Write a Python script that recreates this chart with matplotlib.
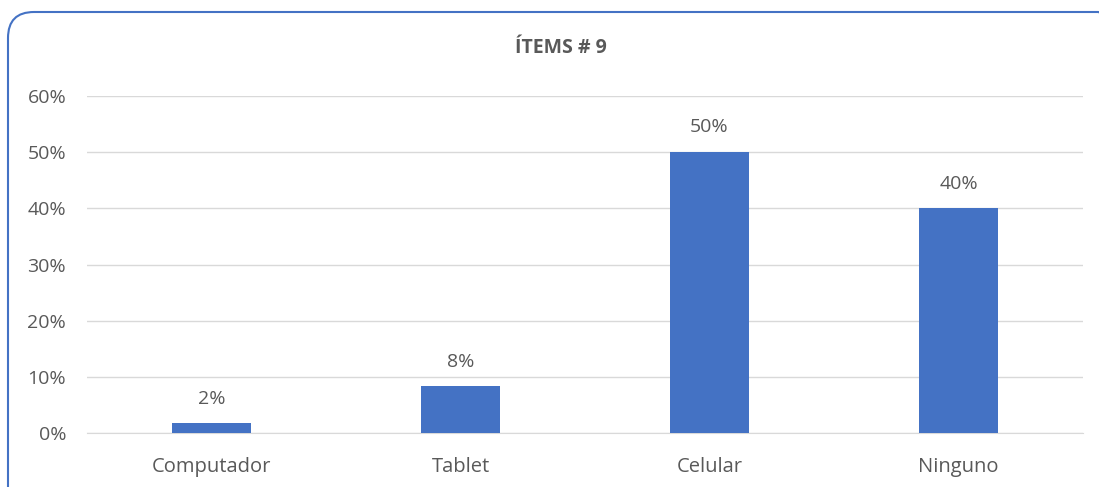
import matplotlib.pyplot as plt
from matplotlib.patches import FancyBboxPatch
from matplotlib.transforms import IdentityTransform

categories = ['Computador', 'Tablet', 'Celular', 'Ninguno']
values = [0.017, 0.083, 0.50, 0.40]
labels = ['2%', '8%', '50%', '40%']
yticks = [0, 0.1, 0.2, 0.3, 0.4, 0.5, 0.6]

plt.rcParams['font.family'] = ['Open Sans', 'DejaVu Sans']
grey = '#595959'

fig = plt.figure(figsize=(10.99, 4.87), dpi=100)

# rounded chart border, in pixels (cut off on the right and bottom like the source)
border = FancyBboxPatch((8, -40), 1116, 487 - 12 + 40,
                        boxstyle='round,pad=0,rounding_size=26',
                        transform=IdentityTransform(), facecolor='none',
                        edgecolor='#4472C4', linewidth=1.5)
fig.patches.append(border)

ax = fig.add_axes([87 / 1099, 1 - 433 / 487, (1083 - 87) / 1099, (433 - 96) / 487])
x = range(len(categories))
ax.bar(x, values, width=0.315, color='#4472C4', zorder=3)
for i, (v, t) in enumerate(zip(values, labels)):
    ax.text(i, v + 0.028, t, ha='center', va='bottom', fontsize=14, color=grey)

ax.set_xlim(-0.5, 3.5)
ax.set_ylim(0, 0.6)
ax.set_yticks(yticks)
ax.set_yticklabels([f'{int(round(t * 100))}%' for t in yticks], fontsize=14, color=grey)
ax.set_xticks(list(x))
ax.set_xticklabels(categories, fontsize=14.5, color=grey)
ax.tick_params(length=0)
ax.tick_params(axis='x', pad=17)
ax.tick_params(axis='y', pad=15)
ax.grid(axis='y', color='#D9D9D9', linewidth=1, zorder=0)
for s in ['top', 'right', 'left']:
    ax.spines[s].set_visible(False)
ax.spines['bottom'].set_color('#D9D9D9')

fig.text(561 / 1099, 1 - 48 / 487, 'ÍTEMS # 9', ha='center', va='center',
         fontsize=14, fontweight='bold', color=grey)

fig.savefig('out.png', dpi=100)
